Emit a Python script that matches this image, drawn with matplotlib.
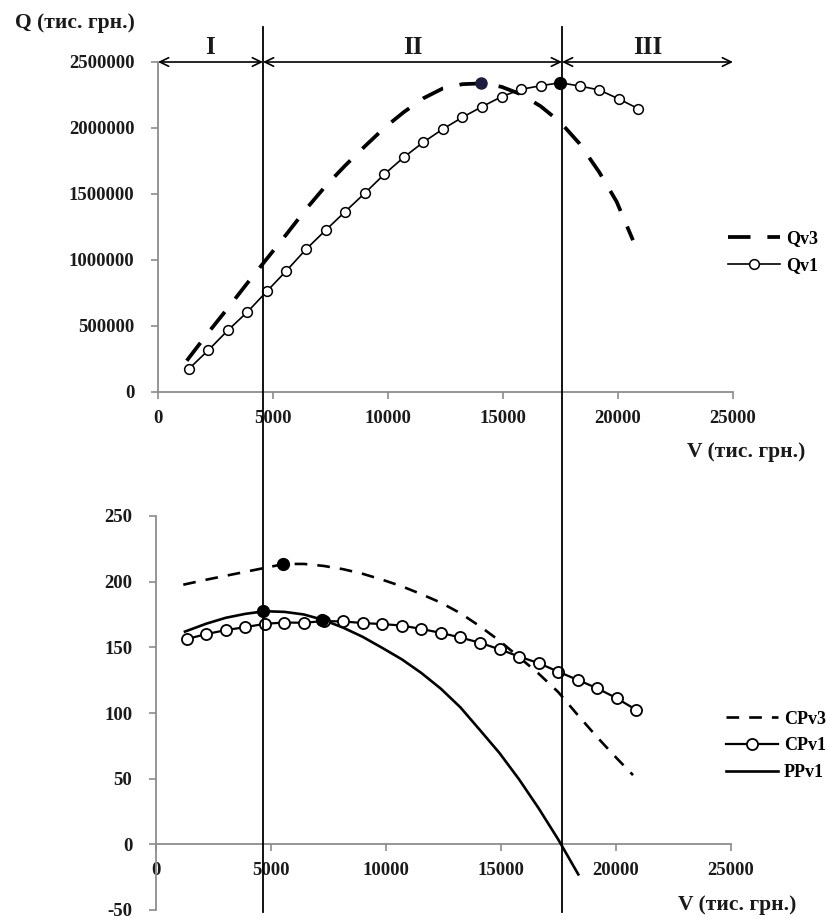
import matplotlib
matplotlib.use("Agg")
import matplotlib.pyplot as plt
from matplotlib.lines import Line2D
from matplotlib.patches import FancyArrowPatch
from matplotlib.transforms import blended_transform_factory
from matplotlib.font_manager import FontProperties

# ---------------- data ----------------
V = [1335, 2185, 3035, 3885, 4735, 5585, 6435, 7285, 8135, 8985, 9835, 10685,
     11535, 12385, 13235, 14085, 14935, 15785, 16635, 17485, 18335, 19185, 20035, 20885]

Qv1 = [174000, 316000, 467000, 606000, 763000, 919000, 1081000, 1225000, 1366000,
       1505000, 1649000, 1778000, 1892000, 1992000, 2081000, 2161000, 2237000,
       2293000, 2320000, 2343000, 2318000, 2288000, 2220000, 2146000]

V_Q3 = [1250, 2185, 3035, 3885, 4735, 5585, 6435, 7285, 8135, 8985, 9835, 10685,
        11535, 12385, 13235, 14085, 14935, 15785, 16635, 17485, 18335, 19185, 19940, 20650]
Qv3 = [237000, 450000, 635000, 825000, 1010000, 1195000, 1385000, 1560000, 1715000,
       1860000, 2000000, 2120000, 2225000, 2300000, 2332000, 2338000, 2312000,
       2255000, 2165000, 2045000, 1880000, 1665000, 1442000, 1150000]

CPv1 = [156.3, 160.1, 163.1, 165.4, 167.9, 168.9, 168.7, 170.0, 169.7, 168.5, 167.7,
        166.6, 164.0, 161.0, 157.5, 153.5, 148.5, 143.0, 138.0, 131.5, 125.2, 118.8,
        111.2, 102.3]

V_CP3 = [1187, 2185, 3035, 3885, 4735, 5585, 6435, 7285, 8135, 8985, 9835, 10685,
         11535, 12385, 13235, 14085, 14935, 15785, 16635, 17485, 18335, 19185, 20035, 20740]
CPv3 = [197.7, 201.5, 204.5, 207.5, 210.5, 213.5, 213.5, 212.0, 209.5, 206.0, 201.5,
        196.5, 190.5, 184.0, 176.0, 166.0, 155.0, 142.5, 130.0, 116.0, 98.5, 81.5,
        65.5, 52.7]

V_PP = [1260, 2185, 3035, 3885, 4735, 5585, 6435, 7285, 8135, 8985, 9835, 10685,
        11535, 12385, 13235, 14085, 14935, 15785, 16635, 17485, 18361]
PPv1 = [162.0, 168.0, 172.5, 175.5, 177.5, 177.0, 175.0, 170.8, 165.0, 158.0, 149.6,
        140.9, 130.5, 118.5, 104.3, 87.0, 69.5, 49.5, 27.5, 3.8, -22.9]

# highlighted points
Q3_MAX = (14040, 2338000)
Q1_MAX = (17485, 2343000)
CP3_MAX = (5508, 213.7)
PP_MAX = (4667, 177.3)
PP_CP_CROSS = (7217, 171.0)

# zone boundaries (V) and labels
ZONES = [0, 4565, 17565, 25000]
ZONE_LABELS = ["I", "II", "III"]

X_TICKS = [0, 5000, 10000, 15000, 20000, 25000]
Q_TICKS = [0, 500000, 1000000, 1500000, 2000000, 2500000]
P_TICKS = [-50, 0, 50, 100, 150, 200, 250]

# ---------------- style ----------------
W, H = 827, 919
fig = plt.figure(figsize=(W / 100, H / 100), dpi=100)
SERIF = "Liberation Serif"
fp_tick = FontProperties(family=SERIF, weight="bold", size=13.5)
fp_leg = FontProperties(family=SERIF, weight="bold", size=13)
fp_lab = FontProperties(family=SERIF, weight="bold", size=15.5)
fp_zone = FontProperties(family=SERIF, weight="bold", size=18)
TXT = "#1a1a1a"
SPINE = "#8c8c8c"


def fx(px):
    return px / W


def fy(py):
    return 1 - py / H


ax1 = fig.add_axes([fx(158), fy(392), 575 / W, 330 / H])
ax2 = fig.add_axes([fx(156), fy(910), 575 / W, 394 / H])
ax2.spines["bottom"].set_position(("data", 0))

for ax in (ax1, ax2):
    for s in ("top", "right"):
        ax.spines[s].set_visible(False)
    for s in ("left", "bottom"):
        ax.spines[s].set_color(SPINE)
        ax.spines[s].set_linewidth(1.3)
    ax.set_xlim(0, 25000)
    ax.set_xticks(X_TICKS)
    ax.set_xticklabels([str(t) for t in X_TICKS], fontproperties=fp_tick)
    ax.tick_params(axis="both", direction="out", length=5, width=1.2, color=SPINE,
                   labelcolor=TXT)
    ax.tick_params(axis="y", pad=12)
    ax.tick_params(axis="x", pad=8)
    ax.set_facecolor("none")

ax1.set_ylim(0, 2500000)
ax1.set_yticks(Q_TICKS)
ax1.set_yticklabels([str(t) for t in Q_TICKS], fontproperties=fp_tick)

ax2.set_ylim(-50, 250)
ax2.set_yticks(P_TICKS)
ax2.set_yticklabels([str(t) for t in P_TICKS], fontproperties=fp_tick)

# ---------------- top chart ----------------
l_q3, = ax1.plot(V_Q3, Qv3, color="black", lw=2.7, dashes=(6.0, 4.5),
                 solid_capstyle="butt", dash_capstyle="butt", zorder=3)
l_q1, = ax1.plot(V, Qv1, color="black", lw=1.2, marker="o", markersize=7,
                 markerfacecolor="white", markeredgecolor="black",
                 markeredgewidth=1.1, zorder=4)
ax1.plot(*Q3_MAX, "o", color="#1c1c40", markersize=8, zorder=5, clip_on=False)
ax1.plot(*Q1_MAX, "o", color="black", markersize=8.5, zorder=5, clip_on=False)

ax1.legend([l_q3, l_q1], ["Qv3", "Qv1"], loc="center left",
           bbox_to_anchor=(fx(728), fy(252)), bbox_transform=fig.transFigure,
           frameon=False, handlelength=2.9, handletextpad=0.3, labelspacing=0.55,
           borderpad=0, borderaxespad=0, prop=fp_leg)

# ---------------- bottom chart ----------------
l_cp3, = ax2.plot(V_CP3, CPv3, color="black", lw=1.9, dashes=(4.8, 3.8),
                  dash_capstyle="butt", zorder=3)
l_cp1, = ax2.plot(V, CPv1, color="black", lw=1.6, marker="o", markersize=8,
                  markerfacecolor="white", markeredgecolor="black",
                  markeredgewidth=1.3, zorder=4)
l_pp, = ax2.plot(V_PP, PPv1, color="black", lw=1.9, zorder=3, clip_on=False)
for pt in (CP3_MAX, PP_MAX, PP_CP_CROSS):
    ax2.plot(*pt, "o", color="black", markersize=8.5, zorder=5)

ax2.legend([l_cp3, l_cp1, l_pp], ["CPv3", "CPv1", "PPv1"], loc="center left",
           bbox_to_anchor=(fx(726), fy(746)), bbox_transform=fig.transFigure,
           frameon=False, handlelength=2.9, handletextpad=0.3, labelspacing=0.55,
           borderpad=0, borderaxespad=0, prop=fp_leg)

# ---------------- zone lines, arrows, labels ----------------
bt = blended_transform_factory(ax1.transData, fig.transFigure)
for xb in ZONES[1:-1]:
    fig.add_artist(Line2D([xb, xb], [fy(27), fy(912)], transform=bt,
                          color="black", lw=1.3))

y_arrow = 2500000
for i in range(3):
    a = FancyArrowPatch((ZONES[i], y_arrow), (ZONES[i + 1], y_arrow),
                        transform=ax1.transData,
                        arrowstyle="<->,head_length=0.45,head_width=0.22",
                        mutation_scale=14, lw=1.2, color="black",
                        shrinkA=0, shrinkB=0, clip_on=False)
    fig.add_artist(a)
    xm = (ZONES[i] + ZONES[i + 1]) / 2
    fig.text(xm, fy(47), ZONE_LABELS[i], transform=bt, ha="center", va="center",
             fontproperties=fp_zone, color=TXT)

# axis titles
fig.text(fx(15), fy(23), "Q (тис. грн.)", ha="left", va="center",
         fontproperties=fp_lab, color=TXT)
fig.text(fx(687), fy(452), "V (тис. грн.)", ha="left", va="center",
         fontproperties=fp_lab, color=TXT)
fig.text(fx(678), fy(905), "V (тис. грн.)", ha="left", va="center",
         fontproperties=fp_lab, color=TXT)

fig.savefig("out.png", dpi=100, facecolor="white")
